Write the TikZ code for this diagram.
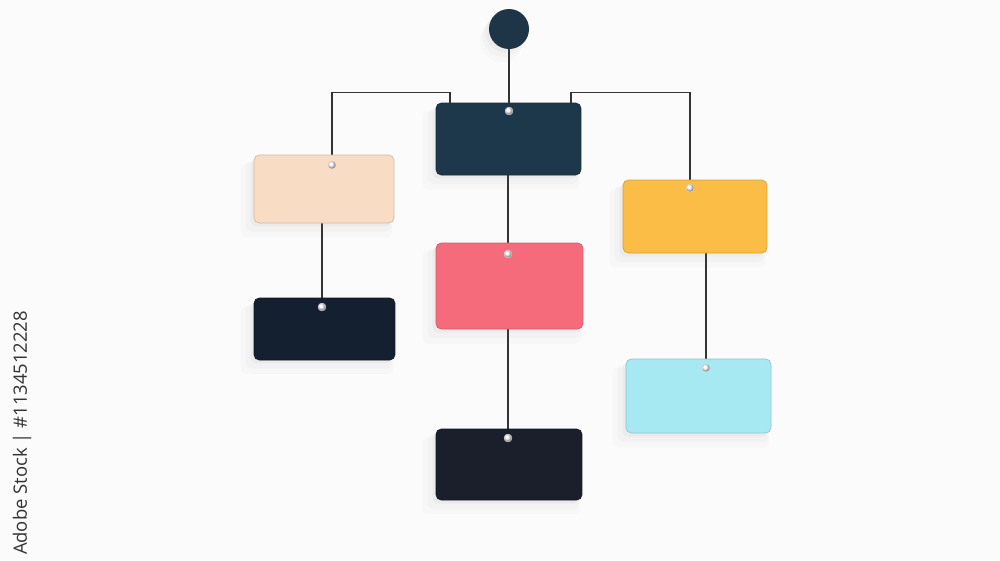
\documentclass[tikz,border=0pt]{standalone}
\usepackage{fontspec}
\newfontfamily\stockfont{Open Sans}
\usetikzlibrary{backgrounds,shadows}
\definecolor{rootnavy}{HTML}{1E3547}
\definecolor{topnavy}{HTML}{1D374B}
\definecolor{peach}{HTML}{F8DCC4}
\definecolor{inkblue}{HTML}{142030}
\definecolor{coral}{HTML}{F66B7C}
\definecolor{ink}{HTML}{1B1F2C}
\definecolor{amber}{HTML}{FBBD45}
\definecolor{aqua}{HTML}{A7E9F2}
\begin{document}
\begin{tikzpicture}[x=0.02cm,y=-0.02cm]
	\tikzstyle{soft}=[drop shadow={opacity=0.05,shadow xshift=-2pt,shadow yshift=-2pt,shadow scale=1.0},
		drop shadow={opacity=0.04,shadow xshift=-3pt,shadow yshift=-4pt,shadow scale=1.04},
		drop shadow={opacity=0.03,shadow xshift=-4pt,shadow yshift=-6pt,shadow scale=1.08}]
	\tikzstyle{card}=[rectangle,rounded corners=3pt,inner sep=0pt,line width=0.4pt,soft]
	\tikzstyle{pin}=[circle,inner sep=0pt,minimum size=0.16cm,ball color=white,draw=black!10,line width=0.2pt]
	\tikzstyle{wire}=[draw=black!80,line width=0.6pt]
	\begin{scope}[on background layer]
		\fill[white!98.5!black] (0,0) rectangle (1000,560);
	\end{scope}
	% root and cards
	\node[circle,fill=rootnavy,minimum size=0.8cm,inner sep=0pt,soft] (root) at (509,29) {};
	\node[card,fill=topnavy,draw=topnavy!80!black,minimum width=2.9cm,minimum height=1.44cm] (b_top) at (508.5,139) {};
	\node[card,fill=peach,draw=peach!85!black,minimum width=2.8cm,minimum height=1.36cm] (b_peach) at (324,189) {};
	\node[card,fill=inkblue,draw=inkblue!80!black,minimum width=2.82cm,minimum height=1.24cm] (b_dark) at (324.5,329) {};
	\node[card,fill=coral,draw=coral!85!black,minimum width=2.94cm,minimum height=1.72cm] (b_coral) at (509.5,286) {};
	\node[card,fill=ink,draw=ink!80!black,minimum width=2.92cm,minimum height=1.42cm] (b_ink) at (509,464.5) {};
	\node[card,fill=amber,draw=amber!85!black,minimum width=2.88cm,minimum height=1.46cm] (b_amber) at (695,216.5) {};
	\node[card,fill=aqua,draw=aqua!85!black,minimum width=2.9cm,minimum height=1.48cm] (b_aqua) at (698.5,396) {};
	% pins
	\node[pin] (p_top) at (509,111) {};
	\node[pin] (p_peach) at (332,165) {};
	\node[pin] (p_dark) at (322,307) {};
	\node[pin] (p_coral) at (508,254) {};
	\node[pin] (p_ink) at (508,438) {};
	\node[pin] (p_amber) at (690,188) {};
	\node[pin] (p_aqua) at (706,368) {};
	\begin{scope}[on background layer]
		\draw[wire] (root) -- (p_top)
			([xshift=-1.17cm]b_top.north) -- ++(0,-10) -| (p_peach)
			([xshift=1.25cm]b_top.north) -- ++(0,-10) -| (p_amber)
			(b_top.south -| p_coral) -- (p_coral)
			(b_coral.south -| p_ink) -- (p_ink)
			(b_peach.south -| p_dark) -- (p_dark)
			(b_amber.south -| p_aqua) -- (p_aqua);
	\end{scope}
	\node[rotate=90,text=black!80,font=\stockfont\fontsize{10.5}{12}\selectfont] (stock) at (22,433) {Adobe Stock | \#1134512228};
\end{tikzpicture}
\end{document}
